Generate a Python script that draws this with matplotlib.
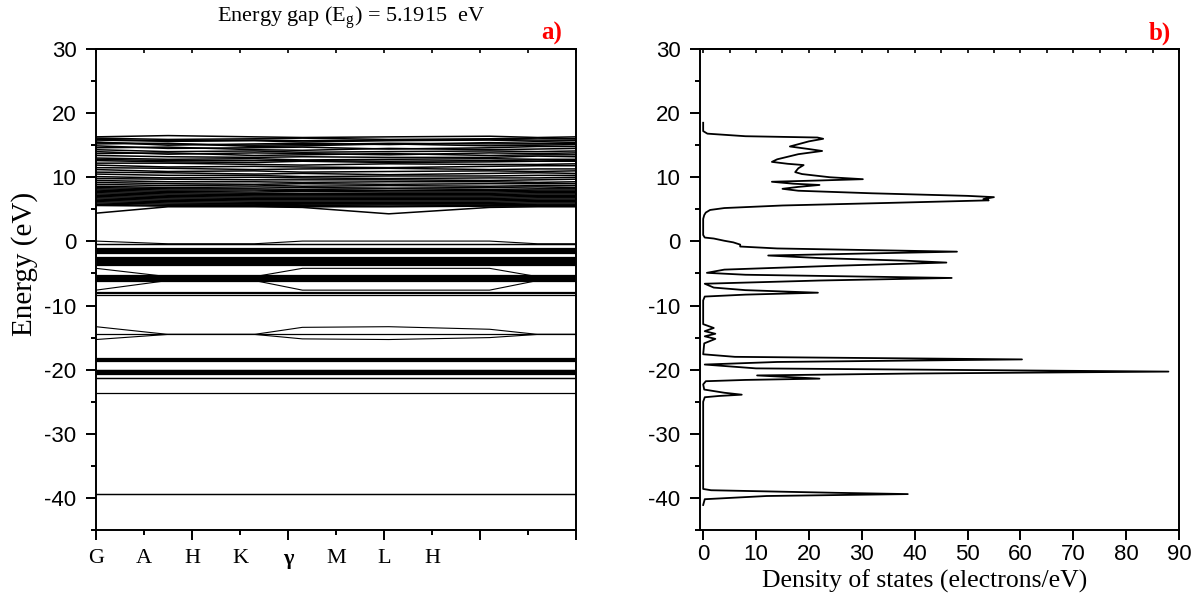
import matplotlib.pyplot as plt
import numpy as np

plt.rcParams['font.family'] = ['Liberation Sans', 'DejaVu Sans']
plt.rcParams['mathtext.fontset'] = 'custom'
plt.rcParams['mathtext.rm'] = 'Liberation Serif'
plt.rcParams['axes.unicode_minus'] = False

SERIF = ['Liberation Serif', 'DejaVu Serif']

# k positions along the path (band values below are given at these points)
k_path = [0, 1.5, 3.3, 4.3, 6.1, 8.2, 9.2, 10]
kpoint_pos = [0, 1, 2, 3, 4, 5, 6, 7]
kpoint_labels = ['G', 'A', 'H', 'K', 'γ', 'M', 'L', 'H']

# conduction bands (eV)
conduction_bands = [
    [16.3, 16.5, 16.3, 16.2, 16.3, 16.4, 16.2, 16.3],
    [16.1, 15.9, 16.0, 16.1, 15.9, 16.0, 16.1, 16.0],
    [15.9, 15.7, 15.8, 15.7, 15.8, 15.9, 15.8, 15.8],
    [15.8, 15.6, 15.7, 15.5, 15.7, 15.8, 15.6, 15.7],
    [15.5, 15.0, 15.2, 15.3, 15.1, 15.4, 15.3, 15.4],
    [15.4, 15.2, 15.0, 15.1, 15.3, 15.2, 15.2, 15.3],
    [15.2, 15.3, 14.8, 14.9, 15.2, 14.9, 15.0, 15.1],
    [14.9, 14.5, 14.6, 14.7, 14.4, 14.6, 14.8, 14.8],
    [14.6, 14.7, 14.3, 14.2, 14.5, 14.3, 14.4, 14.5],
    [14.3, 14.0, 14.1, 13.9, 14.0, 14.1, 14.0, 14.1],
    [14.0, 13.6, 13.8, 13.7, 13.5, 13.8, 13.7, 13.8],
    [13.7, 13.8, 13.4, 13.5, 13.7, 13.4, 13.5, 13.5],
    [13.4, 13.2, 13.1, 13.2, 13.1, 13.1, 13.3, 13.2],
    [13.0, 12.8, 12.9, 12.7, 12.8, 12.9, 12.8, 12.8],
    [12.8, 12.6, 12.6, 12.6, 12.5, 12.6, 12.7, 12.6],
    [12.6, 12.4, 12.3, 12.5, 12.3, 12.4, 12.5, 12.5],
    [12.2, 12.2, 12.0, 11.9, 12.1, 12.0, 12.0, 12.1],
    [11.9, 11.6, 11.7, 11.6, 11.5, 11.7, 11.8, 11.8],
    [11.5, 11.4, 11.2, 11.3, 11.4, 11.2, 11.3, 11.3],
    [11.2, 10.9, 11.0, 10.8, 10.9, 11.0, 10.9, 11.0],
    [10.8, 10.7, 10.5, 10.6, 10.4, 10.6, 10.7, 10.6],
    [10.5, 10.3, 10.3, 10.1, 10.2, 10.2, 10.3, 10.3],
    [10.1, 9.9, 10.0, 9.9, 9.8, 9.9, 9.9, 10.0],
    [9.8, 9.7, 9.6, 9.6, 9.6, 9.5, 9.6, 9.7],
    [9.5, 9.3, 9.3, 9.2, 9.3, 9.3, 9.2, 9.3],
    [9.2, 9.0, 8.9, 9.0, 8.9, 9.0, 9.0, 9.0],
    [8.9, 8.7, 8.8, 8.6, 8.7, 8.6, 8.7, 8.7],
    [8.6, 8.4, 8.5, 8.4, 8.3, 8.4, 8.5, 8.4],
    [8.4, 8.2, 8.2, 8.1, 8.2, 8.1, 8.2, 8.2],
    [8.2, 8.0, 8.0, 7.9, 7.9, 7.9, 8.0, 8.0],
    [8.0, 7.8, 7.7, 7.8, 7.7, 7.7, 7.8, 7.8],
    [7.8, 7.6, 7.5, 7.5, 7.5, 7.5, 7.6, 7.6],
    [7.6, 7.4, 7.3, 7.3, 7.3, 7.3, 7.4, 7.4],
    [7.4, 7.2, 7.1, 7.1, 7.1, 7.1, 7.2, 7.2],
    [7.2, 7.0, 6.9, 6.9, 6.9, 6.9, 7.0, 7.0],
    [7.0, 6.8, 6.7, 6.7, 6.7, 6.7, 6.8, 6.8],
    [6.8, 6.6, 6.5, 6.5, 6.5, 6.5, 6.6, 6.6],
    [6.6, 6.4, 6.3, 6.3, 6.3, 6.3, 6.4, 6.4],
    [6.4, 6.2, 6.1, 6.1, 6.1, 6.1, 6.2, 6.2],
    [6.2, 6.0, 5.9, 5.9, 5.9, 5.9, 6.0, 6.0],
    [6.0, 5.8, 5.8, 5.7, 5.7, 5.7, 5.8, 5.8],
    [5.8, 5.6, 5.6, 5.6, 5.5, 5.6, 5.6, 5.6],
    [5.6, 5.5, 5.5, 5.4, 5.4, 5.5, 5.5, 5.5],
    [4.4, 5.4, 5.4, 5.3, 4.3, 5.3, 5.4, 5.4],
]

# dispersive valence / semicore bands (eV)
valence_bands = [
    [0.05, -0.37, -0.37, 0.05, 0.05, 0.05, -0.37, -0.37],
    [-4.2, -5.5, -5.5, -4.2, -4.2, -4.2, -5.5, -5.5],
    [-7.6, -6.1, -6.1, -7.6, -7.6, -7.6, -6.1, -6.1],
    [-13.3, -14.5, -14.5, -13.4, -13.3, -13.7, -14.5, -14.5],
    [-15.3, -14.5, -14.5, -15.2, -15.3, -15.0, -14.5, -14.5],
]

# nearly flat levels (eV)
flat_levels = [
    -0.37, -0.45,
    -1.1, -1.25, -1.4, -1.55, -1.7, -1.85,
    -2.4, -2.55, -2.7, -2.85, -3.0, -3.15, -3.3, -3.45, -3.6, -3.75,
    -5.3, -5.45, -5.6, -5.75, -5.9, -6.05, -6.2,
    -7.9, -8.0, -8.4,
    -14.5,
    -18.2, -18.3, -18.4, -18.5, -18.6,
    -20.0, -20.12, -20.24, -20.36, -20.48, -20.6,
    -21.25, -21.35,
    -23.7,
    -39.35, -39.45,
]

# density of states
dos_energy = [18.5, 17.2, 16.8, 16.4, 16.2, 16.0, 15.6, 14.8, 14.4, 14.1, 13.6,
              12.8, 12.4, 12.1, 11.9, 11.4, 10.8, 10.5, 10.0, 9.7, 9.5, 9.3,
              9.0, 8.8, 8.5, 8.2, 7.9, 7.5, 7.1, 6.9, 6.6, 6.4, 6.0, 5.6, 5.2,
              4.9, 4.5, 4.1, 3.5, 1.0, 0.6, 0.45, 0.1, -0.15, -0.5, -0.8,
              -1.1, -1.6, -1.9, -2.2, -2.6, -3.0, -3.3, -3.8, -4.4, -4.9,
              -5.2, -5.7, -6.1, -6.6, -7.2, -7.6, -8.0, -8.3, -8.6, -9.2,
              -12.9, -13.5, -14.0, -14.4, -14.8, -15.2, -15.9, -17.6, -18.0,
              -18.4, -18.8, -19.2, -19.8, -20.3, -20.6, -20.9, -21.4, -21.6,
              -21.8, -22.3, -23.1, -23.6, -23.9, -24.1, -24.3, -25.0, -38.6,
              -38.8, -39.2, -39.4, -39.7, -40.2, -41.1]
dos_value = [0, 0, 0.8, 8, 21.6, 22.7, 20, 16.4, 20, 22.5, 18,
             14, 13, 16, 19, 18, 17.4, 18.7, 24, 30.2, 22, 13,
             17, 22, 18, 15, 18, 32, 50, 55, 53, 54, 35, 15, 4,
             1.3, 0.5, 0.2, 0, 0, 0.3, 2, 4, 5.7, 7, 7,
             14, 48, 30, 12.3, 22, 38, 46, 25, 4, 0.7,
             8, 47, 22, 0.3, 2, 8, 21.7, 8, 0.3, 0,
             0, 2, 0.3, 2.3, 0.3, 2.3, 0.2, 0, 6,
             60.3, 14, 0.3, 10, 88, 40, 10.2, 22, 8,
             0.5, 0, 0.2, 4, 7.3, 3, 0.3, 0, 0,
             1.5, 25, 38.7, 12, 0.3, 0]

fig = plt.figure(figsize=(12.04, 5.98), dpi=100)
ax1 = fig.add_axes([96 / 1204, 68 / 598, 480 / 1204, 481 / 598])
ax2 = fig.add_axes([700 / 1204, 68 / 598, 479 / 1204, 481 / 598])

# --- a) band structure
for band in conduction_bands:
    ax1.plot(k_path, band, color='black', lw=1.1)
for band in valence_bands:
    ax1.plot(k_path, band, color='black', lw=0.8)
ax1.hlines(flat_levels, k_path[0], k_path[-1], color='black', lw=0.9)
ax1.set_xlim(0, 10)
ax1.set_ylim(-45, 30)
ax1.set_xticks([0, 2, 4, 6, 8, 10],
               labels=[kpoint_labels[0], kpoint_labels[2], kpoint_labels[4],
                       kpoint_labels[6], '', ''])
ax1.set_xticks([1, 3, 5, 7, 9],
               labels=[kpoint_labels[1], kpoint_labels[3], kpoint_labels[5],
                       kpoint_labels[7], ''], minor=True)
for lab in ax1.get_xticklabels(which='both'):
    lab.set_fontfamily(SERIF)
    lab.set_fontsize(18)
    if lab.get_text() == 'γ':
        lab.set_fontweight('bold')

# --- b) DOS
ax2.plot(dos_value, dos_energy, color='black', lw=1.3)
ax2.set_xlim(-0.6, 90)
ax2.set_ylim(-45, 30)
ax2.set_xticks(np.arange(0, 91, 10))

for ax in (ax1, ax2):
    ax.set_yticks(np.arange(-40, 31, 10))
    ax.set_yticks(np.arange(-45, 31, 5), minor=True)
    for s in ax.spines.values():
        s.set_linewidth(1.4)
    ax.tick_params(which='both', direction='out', width=1.4, right=False,
                   top=False, labelsize=16)
    ax.tick_params(which='major', length=7.5)
    ax.tick_params(which='minor', length=3.8)
    ax.tick_params(axis='y', which='major', pad=6.5)

ax1.tick_params(axis='x', which='major', pad=6)
ax1.tick_params(axis='x', which='minor', pad=9.7)
ax2.tick_params(axis='x', which='major', pad=2.5)

# inward ticks along the top edge
top1 = ax1.secondary_xaxis('top')
top1.set_xticks(np.arange(0, 11, 1))
top2 = ax2.secondary_xaxis('top')
top2.set_xticks(np.arange(0, 91, 5))
for t in (top1, top2):
    t.tick_params(direction='in', length=3, width=1.2, labeltop=False)
    t.spines['top'].set_linewidth(1.4)

fig.text(25 / 1204, 1 - 264 / 598, 'Energy (eV)', rotation=90, ha='center',
         va='center', fontsize=21, fontfamily=SERIF)
fig.text(925 / 1204, 1 - 581 / 598, 'Density of states (electrons/eV)',
         ha='center', va='center', fontsize=18.5, fontfamily=SERIF)
fig.text(351 / 1204, 1 - 18 / 598,
         'Energy gap (E$_{\\mathregular{g}}$) = 5.1915  eV',
         ha='center', va='center', fontsize=16, fontfamily=SERIF)
fig.text(552 / 1204, 1 - 33 / 598, 'a)', ha='center', va='center',
         fontsize=18, fontweight='bold', color='red', fontfamily=SERIF)
fig.text(1160 / 1204, 1 - 33 / 598, 'b)', ha='center', va='center',
         fontsize=18, fontweight='bold', color='red', fontfamily=SERIF)

fig.savefig('out.png', dpi=100)
